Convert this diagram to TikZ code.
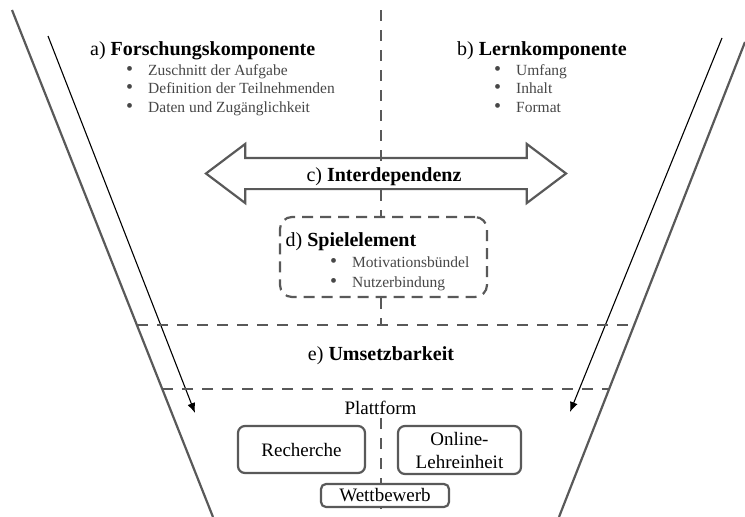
\documentclass[tikz,border=0pt]{standalone}
\usepackage{fontspec}
\setmainfont{Liberation Serif}
\usetikzlibrary{positioning, arrows.meta, shapes.arrows}

\newcommand{\blt}{{\fontsize{20}{18}\selectfont\textbullet}\hspace{15pt}}

\begin{document}
\begin{tikzpicture}[x=1pt, y=-1pt,
    % Styles
    funnel/.style={draw=black!65, line width=2.2pt},
    flow-arrow/.style={-{Latex[length=10pt, width=8pt]}, line width=1.1pt, black},
    divider/.style={draw=black!65, line width=2.5pt, dash pattern=on 11pt off 9pt},
    heading/.style={font=\fontsize{20}{24}\selectfont, anchor=base west, inner sep=0pt},
    items/.style={font=\fontsize{15.5}{18.3}\selectfont, text=black!72, anchor=north west, align=left, inner sep=0pt},
    module/.style={draw=black!65, line width=2.2pt, rounded corners=7pt, fill=white, align=center, font=\fontsize{19}{23}\selectfont, inner sep=0pt},
    gamebox/.style={draw=black!65, line width=2.2pt, dash pattern=on 11pt off 7pt, rounded corners=12pt, fill=white},
]

\useasboundingbox (0,0) rectangle (745,517);

% Funnel
\coordinate (lt) at (12,10);
\coordinate (lb) at (213,517);
\coordinate (rt) at (745,42);
\coordinate (rb) at (559,517);
\draw[funnel] (lt) -- (lb);
\draw[funnel] (rt) -- (rb);

% Flow arrows
\coordinate (lin) at (48,36);
\coordinate (lout) at (195,413);
\coordinate (rin) at (722,38);
\coordinate (rout) at (570,412);
\draw[flow-arrow] (lin) -- (lout);
\draw[flow-arrow] (rin) -- (rout);

% Bands
\coordinate (band-tl) at (137,325);
\coordinate (band-tr) at (634,325);
\coordinate (band-bl) at (162,389);
\coordinate (band-br) at (609,389);
\draw[divider] (band-tl) -- (band-tr);
\draw[divider] (band-bl) -- (band-br);

% Middle axis
\coordinate (axis-top) at (381,10);
\coordinate (axis-bottom) at (381,517);
\node[gamebox, minimum width=207pt, minimum height=80pt] (spiel) at (383.5,257) {};
\draw[divider] (axis-top) -- (axis-top |- spiel.north);
\draw[divider] (axis-top |- spiel.south) -- (axis-top |- band-tl);

% a) research component
\node[heading] (forschung) at (90,55) {a) \textbf{Forschungskomponente}};
\node[items] (forschung-list) at (126,64.5) {\blt Zuschnitt der Aufgabe\\ \blt Definition der Teilnehmenden\\ \blt Daten und Zugänglichkeit};

% b) learning component
\node[heading] (lernen) at (457,55) {b) \textbf{Lernkomponente}};
\node[items] (lernen-list) at (494,64.5) {\blt Umfang\\ \blt Inhalt\\ \blt Format};

% c) interdependence
\node[draw=black!65, line width=2.2pt, double arrow, double arrow head extend=14pt, double arrow tip angle=74, double arrow head indent=0pt, minimum height=360pt, inner sep=0pt, inner ysep=14.5pt] (inter) at (386,173.5) {};
\node[font=\fontsize{20}{24}\selectfont, fill=white, inner sep=1pt, anchor=base] (inter-label) at (384,181.5) {c) \textbf{Interdependenz}};

% d) game element
\node[heading] (spiel-title) at (285.5,246.7) {d) \textbf{Spielelement}};
\node[items, font=\fontsize{15.5}{20}\selectfont] (spiel-list) at (330,256.5) {\blt Motivationsbündel\\ \blt Nutzerbindung};

% e) feasibility
\node[heading, anchor=base] (umsetzung) at (381,360) {e) \textbf{Umsetzbarkeit}};

% Platform
\node[font=\fontsize{19}{22}\selectfont, inner sep=4pt, anchor=base] (plattform) at (380.5,414) {Plattform};
\draw[divider] (axis-top |- plattform.south) -- (axis-bottom);

\node[module, minimum width=127pt, minimum height=47pt] (recherche) at (301.5,449.5) {Recherche};
\node[module, minimum width=123pt, minimum height=48pt] (online) at (459.5,450) {Online-\\Lehreinheit};
\node[module, rounded corners=5pt, minimum width=128pt, minimum height=23pt] (wettbewerb) at (385,495.5) {Wettbewerb};

\end{tikzpicture}
\end{document}
